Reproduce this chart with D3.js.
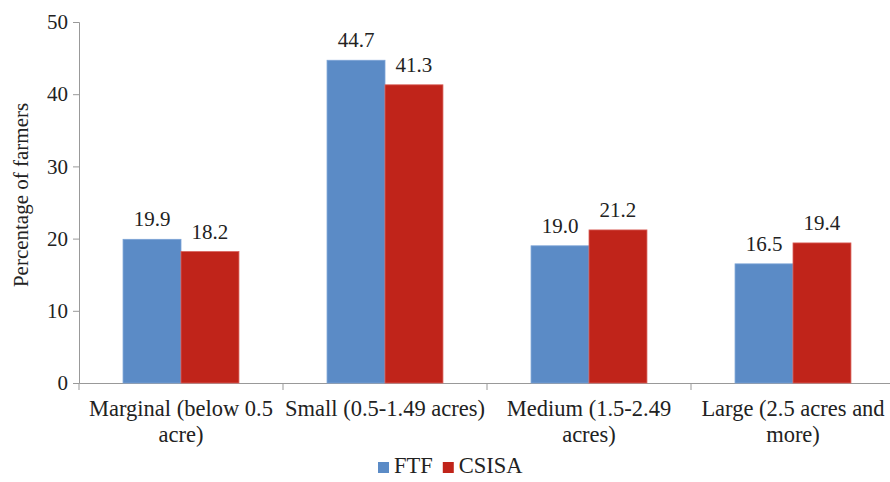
<!DOCTYPE html>
<html><head><meta charset="utf-8">
<script src="https://cdn.jsdelivr.net/npm/d3@7"></script>
<style>body{margin:0;background:#fff}svg{display:block}</style>
</head><body>
<svg id="c" width="890" height="482"></svg>
<script>
const categories = ["Marginal (below 0.5 acre)", "Small (0.5-1.49 acres)", "Medium (1.5-2.49 acres)", "Large (2.5 acres and more)"];
const seriesNames = ["FTF", "CSISA"];
const ftf = [19.9, 44.7, 19.0, 16.5];
const csisa = [18.2, 41.3, 21.2, 19.4];
const yTicks = [0, 10, 20, 30, 40, 50];
const colors = ["#5b8bc6", "#c0241a"];
const strokes = ["#7aa3d6", "#d9605a"];
const FONT = "Liberation Serif";

const svg = d3.select("#c");
const m = {l: 79, r: -5, t: 22, b: 99};
const W = 890, H = 482;
const x = d3.scaleBand().domain(categories).range([m.l, W - m.r]).paddingInner(0).paddingOuter(0);
const y = d3.scaleLinear().domain([0, 50]).range([H - m.b, m.t]);
const inner = d3.scaleBand().domain(seriesNames).range([0, x.bandwidth()]).paddingOuter(0.76).paddingInner(0);

const data = categories.map((c, i) => ({c, vals: [ftf[i], csisa[i]]}));
const txt = (sel, fs) => sel.style("font-family", FONT).style("font-size", (fs || 21) + "px").style("fill", "#222");

// y axis
const ya = svg.append("g").attr("transform", `translate(${m.l},0)`)
  .call(d3.axisLeft(y).tickValues(yTicks).tickSize(6).tickPadding(5));
ya.attr("font-family", FONT).attr("font-size", "21px");
ya.select(".domain").attr("stroke", "#999");
ya.selectAll(".tick line").attr("stroke", "#999");
ya.selectAll(".tick text").call(txt, 21);

// x axis
const xa = svg.append("g").attr("transform", `translate(0,${y(0)})`)
  .call(d3.axisBottom(x).tickSize(0).tickFormat(""));
xa.select(".domain").attr("stroke", "#999");
const bounds = [m.l, ...categories.map(c => x(c) + x.bandwidth())];
svg.append("g").selectAll("line").data(bounds).join("line")
  .attr("x1", d => d).attr("x2", d => d)
  .attr("y1", y(0)).attr("y2", y(0) + 7).attr("stroke", "#999");

// bars
const g = svg.append("g").selectAll("g").data(data).join("g")
  .attr("transform", d => `translate(${x(d.c)},0)`);
g.selectAll("rect").data(d => d.vals.map((v, k) => ({v, k}))).join("rect")
  .attr("x", d => inner(seriesNames[d.k]))
  .attr("width", inner.bandwidth())
  .attr("y", d => y(d.v))
  .attr("height", d => y(0) - y(d.v))
  .attr("fill", d => colors[d.k])
  .attr("stroke", d => strokes[d.k]).attr("stroke-width", 0.8);
g.selectAll("text.v").data(d => d.vals.map((v, k) => ({v, k}))).join("text")
  .attr("class", "v")
  .attr("x", d => inner(seriesNames[d.k]) + inner.bandwidth() / 2)
  .attr("y", d => y(d.v) - 13)
  .attr("text-anchor", "middle")
  .call(txt, 21)
  .text(d => d.v.toFixed(1));

// category labels with wrapping
const maxW = 203;
categories.forEach(c => {
  const cx = x(c) + x.bandwidth() / 2;
  const t = svg.append("text").attr("text-anchor", "middle").attr("x", cx).attr("y", 416).call(txt, 22.5);
  const words = c.split(" ");
  let line = [], ts = t.append("tspan").attr("x", cx).attr("dy", 0);
  words.forEach(w => {
    line.push(w);
    ts.text(line.join(" "));
    if (ts.node().getComputedTextLength() > maxW && line.length > 1) {
      line.pop(); ts.text(line.join(" "));
      line = [w];
      ts = t.append("tspan").attr("x", cx).attr("dy", 26).text(w);
    }
  });
});

// y title
svg.append("text").attr("transform", `translate(28,195) rotate(-90)`)
  .attr("text-anchor", "middle").call(txt, 21).text("Percentage of farmers");

// legend
const leg = svg.append("g").attr("transform", "translate(378,473)");
let lx = 0;
seriesNames.forEach((s, k) => {
  leg.append("rect").attr("x", lx).attr("y", -11).attr("width", 11).attr("height", 11).attr("fill", colors[k]);
  const t = leg.append("text").attr("x", lx + 16).attr("y", 0).call(txt, 22.5).text(s);
  lx += 16 + t.node().getComputedTextLength() + 10;
});
</script>
</body></html>
